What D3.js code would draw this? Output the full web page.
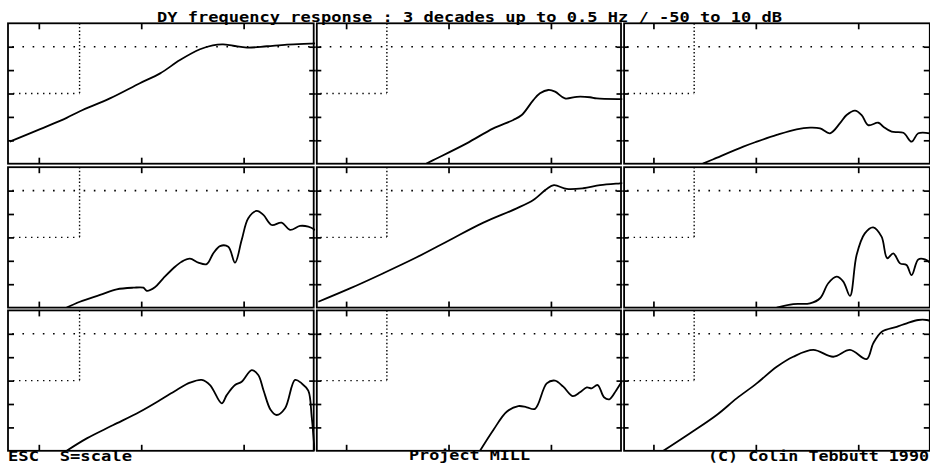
<!DOCTYPE html>
<html>
<head>
<meta charset="utf-8">
<script src="https://cdn.jsdelivr.net/npm/d3@7"></script>
<style>
  body { margin: 0; background: #fff; }
  svg { display: block; }
  text { font-family: "DejaVu Sans Mono", monospace; font-weight: bold; fill: #000; white-space: pre; }
</style>
</head>
<body>
<svg width="930" height="464"></svg>
<script>
// tick positions (Hz / dB) and the dotted reference box
const freqTicks = [0.001, 0.01, 0.1];
const dbTicks = [0, -10, -20, -30, -40];
const boxFreq = 0.0025;
const boxDb = -20;

// one response per panel: [Hz, dB]
const resp1 = [[0.00052,-40.6],[0.00103,-35.2],[0.00187,-30.4],[0.00252,-27.6],[0.005,-22],[0.0097,-15.6],[0.0153,-11.4],[0.0239,-5.7],[0.0375,-1.1],[0.05,0.6],[0.063,1.0],[0.079,0.4],[0.108,-0.4],[0.169,0.2],[0.265,0.9],[0.445,1.3],[0.5,1.4]];
const resp2 = [[0.00603,-50],[0.00738,-48.1],[0.01505,-41.3],[0.0274,-34.9],[0.0429,-31.3],[0.0519,-29.2],[0.0673,-22.8],[0.0782,-19.9],[0.0943,-18.5],[0.1097,-19.2],[0.137,-22.1],[0.179,-21.4],[0.241,-21.6],[0.28,-22.1],[0.473,-22.4],[0.5,-22.4]];
const resp3 = [[0.00304,-50],[0.00385,-48.1],[0.00755,-42.7],[0.0102,-40.6],[0.016,-37.7],[0.025,-35.3],[0.0338,-34.6],[0.0424,-34.9],[0.053,-37.0],[0.0664,-32.7],[0.077,-29.2],[0.093,-27.3],[0.108,-29.2],[0.125,-33.5],[0.157,-32.5],[0.176,-34.2],[0.212,-36.3],[0.276,-36.8],[0.332,-40.6],[0.386,-37.0],[0.5,-37.0]];
const resp4 = [[0.00187,-50],[0.00252,-47.5],[0.00396,-44.6],[0.00576,-42.2],[0.00837,-41.5],[0.0105,-41.5],[0.0113,-42.8],[0.0136,-41.3],[0.0164,-37.5],[0.0206,-33.2],[0.0248,-30.4],[0.0299,-29.1],[0.0361,-30.8],[0.0436,-31.4],[0.0506,-26.8],[0.0588,-23.7],[0.0709,-24.0],[0.0824,-30.8],[0.0957,-21.1],[0.111,-11.8],[0.134,-8.7],[0.156,-10.4],[0.188,-14.7],[0.235,-13.7],[0.284,-16.8],[0.355,-15.1],[0.428,-15.4],[0.5,-16.8]];
const resp5 = [[0.000535,-47.5],[0.00109,-41.8],[0.00231,-35.3],[0.00489,-28.5],[0.0103,-21.1],[0.0219,-13.7],[0.0463,-7.6],[0.0673,-4.0],[0.091,0.7],[0.107,2.3],[0.143,0.7],[0.207,1.0],[0.302,2.3],[0.473,3.1],[0.5,3.2]];
const resp6 = [[0.016,-50],[0.0232,-48.5],[0.0338,-48.2],[0.0424,-46.0],[0.051,-39.6],[0.0615,-36.8],[0.0715,-38.9],[0.0831,-45.0],[0.0964,-27.5],[0.116,-18.3],[0.14,-15.7],[0.169,-19.7],[0.192,-28.9],[0.22,-26.8],[0.256,-31.1],[0.296,-31.8],[0.332,-36.1],[0.386,-29.4],[0.449,-29.4],[0.5,-30.8]];
const resp7 = [[0.00187,-50],[0.00294,-44.7],[0.00534,-39.0],[0.0097,-33.3],[0.0153,-28.3],[0.0222,-24.0],[0.0299,-20.9],[0.039,-19.7],[0.047,-21.9],[0.0611,-29.7],[0.0684,-26.2],[0.0824,-21.9],[0.0957,-20.5],[0.12,-15.5],[0.139,-17.6],[0.156,-24.0],[0.184,-32.6],[0.21,-34.7],[0.254,-31.8],[0.318,-19.7],[0.369,-21.2],[0.428,-24.3],[0.462,-35.4],[0.487,-46.8],[0.495,-50]];
const resp8 = [[0.0203,-50],[0.0274,-41.1],[0.037,-33.3],[0.048,-30.9],[0.058,-31.4],[0.0699,-32.1],[0.091,-21.2],[0.1097,-20.0],[0.132,-22.6],[0.163,-26.6],[0.192,-25.0],[0.224,-22.9],[0.25,-23.3],[0.286,-21.9],[0.33,-27.1],[0.372,-28.0],[0.432,-24.3],[0.491,-20.5],[0.5,-20.0]];
const resp9 = [[0.00125,-50],[0.00228,-42.5],[0.00415,-34.7],[0.0065,-27.6],[0.0102,-21.2],[0.016,-14.1],[0.0232,-9.8],[0.0364,-6.9],[0.0571,-9.8],[0.0831,-6.9],[0.121,-10.8],[0.14,-4.1],[0.17,0.9],[0.2376,3.0],[0.298,4.5],[0.386,5.9],[0.466,5.9],[0.5,5.5]];

const responses = [resp1, resp2, resp3, resp4, resp5, resp6, resp7, resp8, resp9];

const title = 'DY frequency response : 3 decades up to 0.5 Hz / -50 to 10 dB';
const footLeft = 'ESC  S=scale';
const footMid = 'Project MILL';
const footRight = '(C) Colin Tebbutt 1990';

const svg = d3.select('svg');

// panel grid (pixels)
const colLeft = [8, 315.3, 622.6];
const rowTop = [23.3, 167.2, 310.4];
const panelW = 307.2;
const panelH = 140.4;

responses.forEach((data, i) => {
  const c = i % 3, r = Math.floor(i / 3);
  const x0 = colLeft[c], y0 = rowTop[r];

  const x = d3.scaleLog().domain([0.0005, 0.5]).range([x0, x0 + panelW]);
  const y = d3.scaleLinear().domain([-50, 10]).range([y0 + panelH, y0]);

  const g = svg.append('g');

  g.append('clipPath').attr('id', 'clip' + i)
    .append('rect')
    .attr('x', x0).attr('y', y0)
    .attr('width', panelW).attr('height', panelH);

  // dotted 0 dB line
  g.append('line')
    .attr('x1', x(0.00055)).attr('x2', x(0.5))
    .attr('y1', y(0)).attr('y2', y(0))
    .attr('stroke', '#000').attr('stroke-width', 1.6)
    .attr('stroke-dasharray', '1.6,8.6');

  // dotted box in the corner
  g.append('line')
    .attr('x1', x(0.00056)).attr('x2', x(boxFreq))
    .attr('y1', y(boxDb)).attr('y2', y(boxDb))
    .attr('stroke', '#000').attr('stroke-width', 1.4)
    .attr('stroke-dasharray', '1.4,4.6');
  g.append('line')
    .attr('x1', x(boxFreq)).attr('x2', x(boxFreq))
    .attr('y1', y(10)).attr('y2', y(boxDb))
    .attr('stroke', '#000').attr('stroke-width', 1.4)
    .attr('stroke-dasharray', '1.4,2.2');

  // inward ticks on all four sides
  const tick = (axis, tx, ty) => {
    const a = g.append('g').attr('transform', `translate(${tx},${ty})`)
      .call(axis.tickFormat('').tickSizeOuter(0).tickSizeInner(-6));
    a.select('.domain').remove();
    a.selectAll('line').attr('stroke', '#000').attr('stroke-width', 1.7);
  };
  tick(d3.axisTop(x).tickValues(freqTicks), 0, y0);
  tick(d3.axisBottom(x).tickValues(freqTicks), 0, y0 + panelH);
  tick(d3.axisLeft(y).tickValues(dbTicks), x0, 0);
  tick(d3.axisRight(y).tickValues(dbTicks), x0 + panelW, 0);

  // frame: neighbouring panels give a double rule
  const fx0 = x0 + (c > 0 ? 1.5 : 0);
  const fx1 = x0 + panelW - (c < 2 ? 1.5 : 0);
  g.append('rect')
    .attr('x', fx0).attr('y', y0)
    .attr('width', fx1 - fx0).attr('height', panelH)
    .attr('fill', 'none').attr('stroke', '#000').attr('stroke-width', 1.8);

  // response curve
  const line = d3.line()
    .x(d => x(d[0]))
    .y(d => y(d[1]))
    .curve(d3.curveCatmullRom.alpha(0.5));

  g.append('path')
    .datum(data)
    .attr('clip-path', `url(#clip${i})`)
    .attr('d', line)
    .attr('fill', 'none')
    .attr('stroke', '#000')
    .attr('stroke-width', 1.8)
    .attr('stroke-linejoin', 'round');
});

// title and footer, stretched like the old screen font
const addText = (str, xPos, yPos, len) => {
  svg.append('text')
    .attr('x', xPos).attr('y', yPos)
    .attr('font-size', 13.5)
    .attr('textLength', len)
    .attr('lengthAdjust', 'spacingAndGlyphs')
    .text(str);
};
addText(title, 157, 21.5, 625);
addText(footLeft, 8, 460.5, 124);
addText(footMid, 409, 460, 121);
addText(footRight, 708, 460.5, 221);
</script>
</body>
</html>
